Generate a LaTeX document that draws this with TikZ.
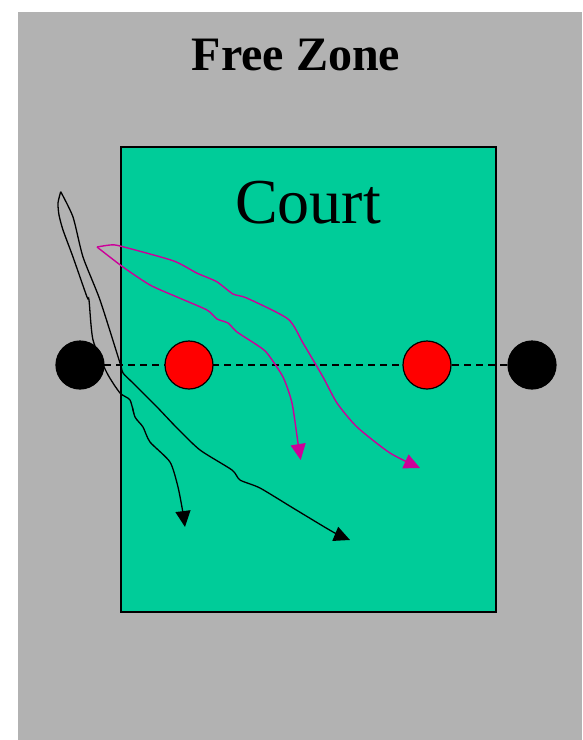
\documentclass[tikz,border=0pt]{standalone}
\usepackage{fontspec}
\setmainfont{Liberation Serif}
\usetikzlibrary{arrows.meta}
\definecolor{zonegray}{RGB}{178,178,178}
\definecolor{courtgreen}{RGB}{0,204,153}
\definecolor{pathpink}{RGB}{204,0,153}
\tikzset{
  player/.style={circle, draw=black, line width=1.2pt, fill=#1, minimum size=48pt, inner sep=0pt},
  pinkpath/.style={draw=pathpink, line width=1.4pt, -{Triangle[length=16pt,width=15pt]}},
  blackpath/.style={draw=black, line width=1.3pt, -{Triangle[length=16pt,width=15pt]}},
  net/.style={dash pattern=on 7pt off 5pt, line width=1.4pt},
}
\begin{document}
\begin{tikzpicture}[x=1pt,y=-1pt]
\useasboundingbox (0,0) rectangle (582,740);
% free zone
\fill[zonegray] (18,12) rectangle (582,740);
\node[anchor=base, font=\fontsize{48}{50}\selectfont\bfseries] (fz) at (296,70) {Free Zone};
% court
\draw[fill=courtgreen, line width=1.6pt] (121,147) rectangle (496,612);
\node[anchor=base, font=\fontsize{64}{66}\selectfont] (court) at (308,223) {Court};
% net line behind the players
\coordinate (c1) at (80,365);
\coordinate (c2) at (532,365);
\draw[net] (c1) -- (c2);
% players
\node[player=black] (b1) at (c1) {};
\node[player=black] (b2) at (c2) {};
\node[player=red] (r1) at (189,365) {};
\node[player=red] (r2) at (427,365) {};
% pink paths
\coordinate (ps) at (97,247);
\coordinate (pe1) at (420,468);
\coordinate (pe2) at (300.7,460);
\draw[pinkpath] plot[smooth, tension=0.4] coordinates {(ps) (110,245) (120,246) (173,260.7) (196.7,273) (216.7,281.7) (233,294) (246.7,298) (288,319) (303,343) (323,377) (337,403) (357,427) (390,453) (pe1)};
\draw[pinkpath] plot[smooth, tension=0.4] coordinates {(ps) (123,267) (150,285) (177,297) (207,310) (217,319) (228,323) (237,332) (257,345) (267,353) (283,377) (292,403) (298,443) (pe2)};
% black paths
\coordinate (bs) at (60.7,191.7);
\coordinate (be1) at (185,527);
\coordinate (be2) at (350,540);
\draw[blackpath] plot[smooth, tension=0.4] coordinates {(bs) (58,203) (59,215) (63,230) (73,257) (87,297) (89,300) (93,340) (107,373) (120,393) (130,400) (135,417) (143,427) (150,442) (170,462) (178,487) (183,513) (be1)};
\draw[blackpath] plot[smooth, tension=0.4] coordinates {(bs) (73,217) (83,257) (100,300) (120,363) (123,373) (133,383) (157,407) (177,428) (200,450) (232,470) (240,480) (260,488) (293,508) (333,532) (be2)};
\coordinate (k1) at (134,414);
\coordinate (k2) at (132.5,407);
\draw[line width=1pt] (k1) -- (k2);
\end{tikzpicture}
\end{document}
